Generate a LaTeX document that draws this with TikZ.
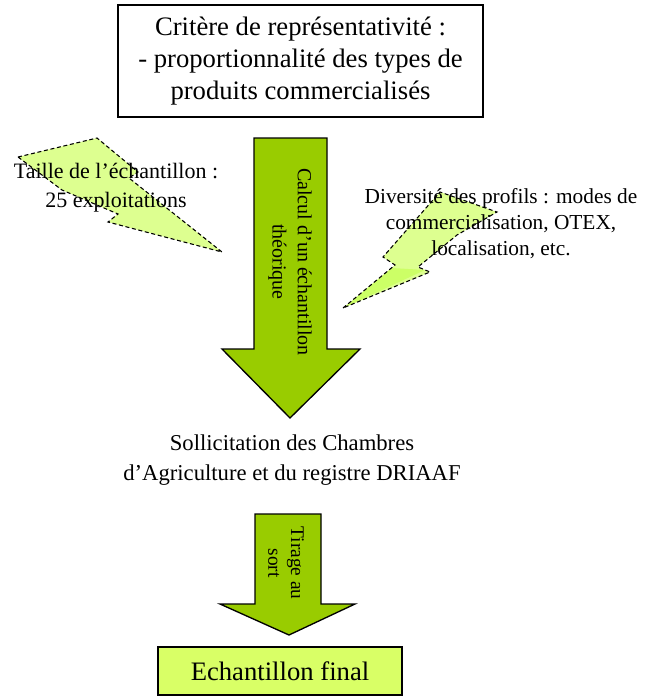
\documentclass[tikz,border=0pt]{standalone}
\usepackage{fontspec}
\setmainfont{Liberation Serif}
\usetikzlibrary{calc}

\definecolor{arrowgreen}{HTML}{99CC00}
\definecolor{boltgreen}{HTML}{DDFF90}
\definecolor{boltsolid}{HTML}{CCFF66}
\definecolor{finalgreen}{HTML}{D9FF66}

\tikzset{
  txtbig/.style={font=\fontsize{20}{24}\selectfont, align=center, inner sep=0pt},
  txtmid/.style={font=\fontsize{16.5}{21.5}\selectfont, align=center, inner sep=0pt},
  txtsmall/.style={font=\fontsize{16}{19.5}\selectfont, align=center, inner sep=0pt},
  blockarrow/.style={draw=black, line width=1pt, fill=arrowgreen, line join=miter},
  bolt/.style={draw=black, densely dashed, line width=0.8pt},
}

\begin{document}
\begin{tikzpicture}[x=0.75pt, y=-0.75pt]

\useasboundingbox (0,0) rectangle (647,697);

%% top criterion box
\node[txtbig, draw, line width=1pt, minimum width=273.75pt, minimum height=84pt] (critere) at (300.5,61)
  {Critère de représentativité :\\- proportionnalité des types de\\produits commercialisés};

%% lightning bolts
\draw[bolt, fill=boltgreen] (18,157) -- (97,138) -- (138,172) -- (129,178) -- (222,252)
  -- (108,222) -- (118,214) -- (62,190) -- cycle;
\fill[boltgreen] (343,308) -- (395,265) -- (383,257) -- (440,192) -- (497,212)
  -- (457,235) -- (418,267) -- (430,272) -- cycle;
\fill[boltsolid] (345,307) -- (392,268) -- (425,270) -- cycle;
\draw[bolt] (343,308) -- (395,265) -- (383,257) -- (440,192) -- (497,212)
  -- (457,235) -- (418,267) -- (430,272) -- cycle;

\node[txtmid] (taille) at (116,188) {Taille de l’échantillon :\\25 exploitations};
\node[txtsmall] (diversite) at (501,224) {Diversité des profils : modes de\\commercialisation, OTEX,\\localisation, etc.};

%% big arrow : theoretical sample
\draw[blockarrow] (254,138) -- (327,138) -- (327,349) -- (360,349) -- (290,418)
  -- (222,349) -- (254,349) -- cycle;
\node[txtsmall, font=\fontsize{15}{19}\selectfont, rotate=-90] (calcul) at (290,262) {Calcul d’un échantillon\\théorique};

%% solicitation text
\node[txtmid, font=\fontsize{17}{22.5}\selectfont] (sollicitation) at (292,460)
  {Sollicitation des Chambres\\d’Agriculture et du registre DRIAAF};

%% small arrow : random draw
\draw[blockarrow] (255,514) -- (321,514) -- (321,604) -- (355,604) -- (289,635)
  -- (220,604) -- (255,604) -- cycle;
\node[txtsmall, font=\fontsize{14.5}{17}\selectfont, rotate=-90] (tirage) at (286,563) {Tirage au\\sort};

%% final sample box
\node[txtbig, draw, line width=1pt, fill=finalgreen, minimum width=183pt, minimum height=36pt] (final) at (280,671)
  {Echantillon final};

\end{tikzpicture}
\end{document}
